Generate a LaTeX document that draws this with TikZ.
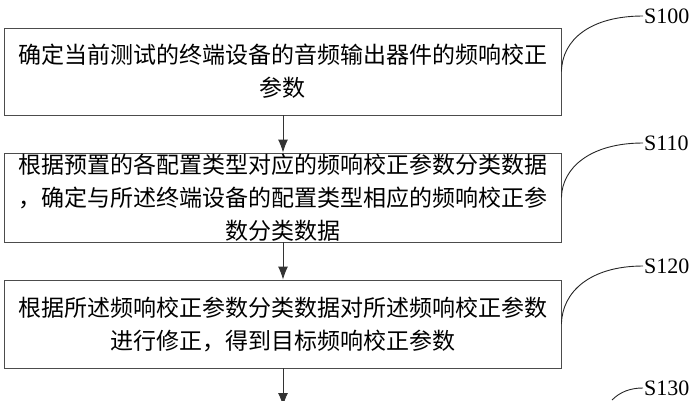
\documentclass[tikz,border=0pt]{standalone}
\usepackage{fontspec}
\setmainfont{Liberation Serif}
\newfontfamily\cjk{Noto Sans CJK SC}
\usetikzlibrary{arrows.meta}
\tikzset{
  stepbox/.style={draw=black!70, line width=0.9pt, minimum width=557pt, text width=545pt,
    align=center, inner sep=0pt, font=\cjk\fontsize{23}{33}\selectfont},
  flow/.style={draw=black!80, line width=0.9pt, -{Latex[length=13pt,width=10pt]}},
  lead/.style={draw=black!85, line width=0.9pt},
  steplabel/.style={anchor=west, inner sep=1pt, font=\fontsize{22}{24}\selectfont}
}
\begin{document}
\begin{tikzpicture}[x=1pt,y=-1pt]
\useasboundingbox (0,0) rectangle (693,400);
\node [stepbox, minimum height=87pt] (b1) at (282.5,71.5) {确定当前测试的终端设备的音频输出器件的频响校正\\参数};
\node [stepbox, minimum height=89pt] (b2) at (282.5,197.5) {根据预置的各配置类型对应的频响校正参数分类数据\\，确定与所述终端设备的配置类型相应的频响校正参\\数分类数据};
\node [stepbox, minimum height=88pt] (b3) at (282.5,324) {根据所述频响校正参数分类数据对所述频响校正参数\\进行修正，得到目标频响校正参数};
\node [steplabel] (s100) at (643,16) {S100};
\node [steplabel] (s110) at (643,143) {S110};
\node [steplabel] (s120) at (643,266) {S120};
\node [steplabel] (s130) at (643,388) {S130};
\coordinate (e3) at (283,406);
\coordinate (c130) at (612,400);
\draw [flow] (b1.south -| 283,0) -- (b2.north -| 283,0);
\draw [flow] (b2.south -| 283,0) -- (b3.north -| 283,0);
\draw [flow] (b3.south -| 283,0) -- (e3);
\draw [lead] (b1.east) .. controls (562,40) and (590,16) .. (s100.west);
\draw [lead] (b2.east) .. controls (562,168) and (590,143) .. (s110.west);
\draw [lead] (b3.east) .. controls (562,292) and (590,266) .. (s120.west);
\draw [lead] (c130) .. controls (620,392) and (630,388) .. (s130.west);
\end{tikzpicture}
\end{document}
